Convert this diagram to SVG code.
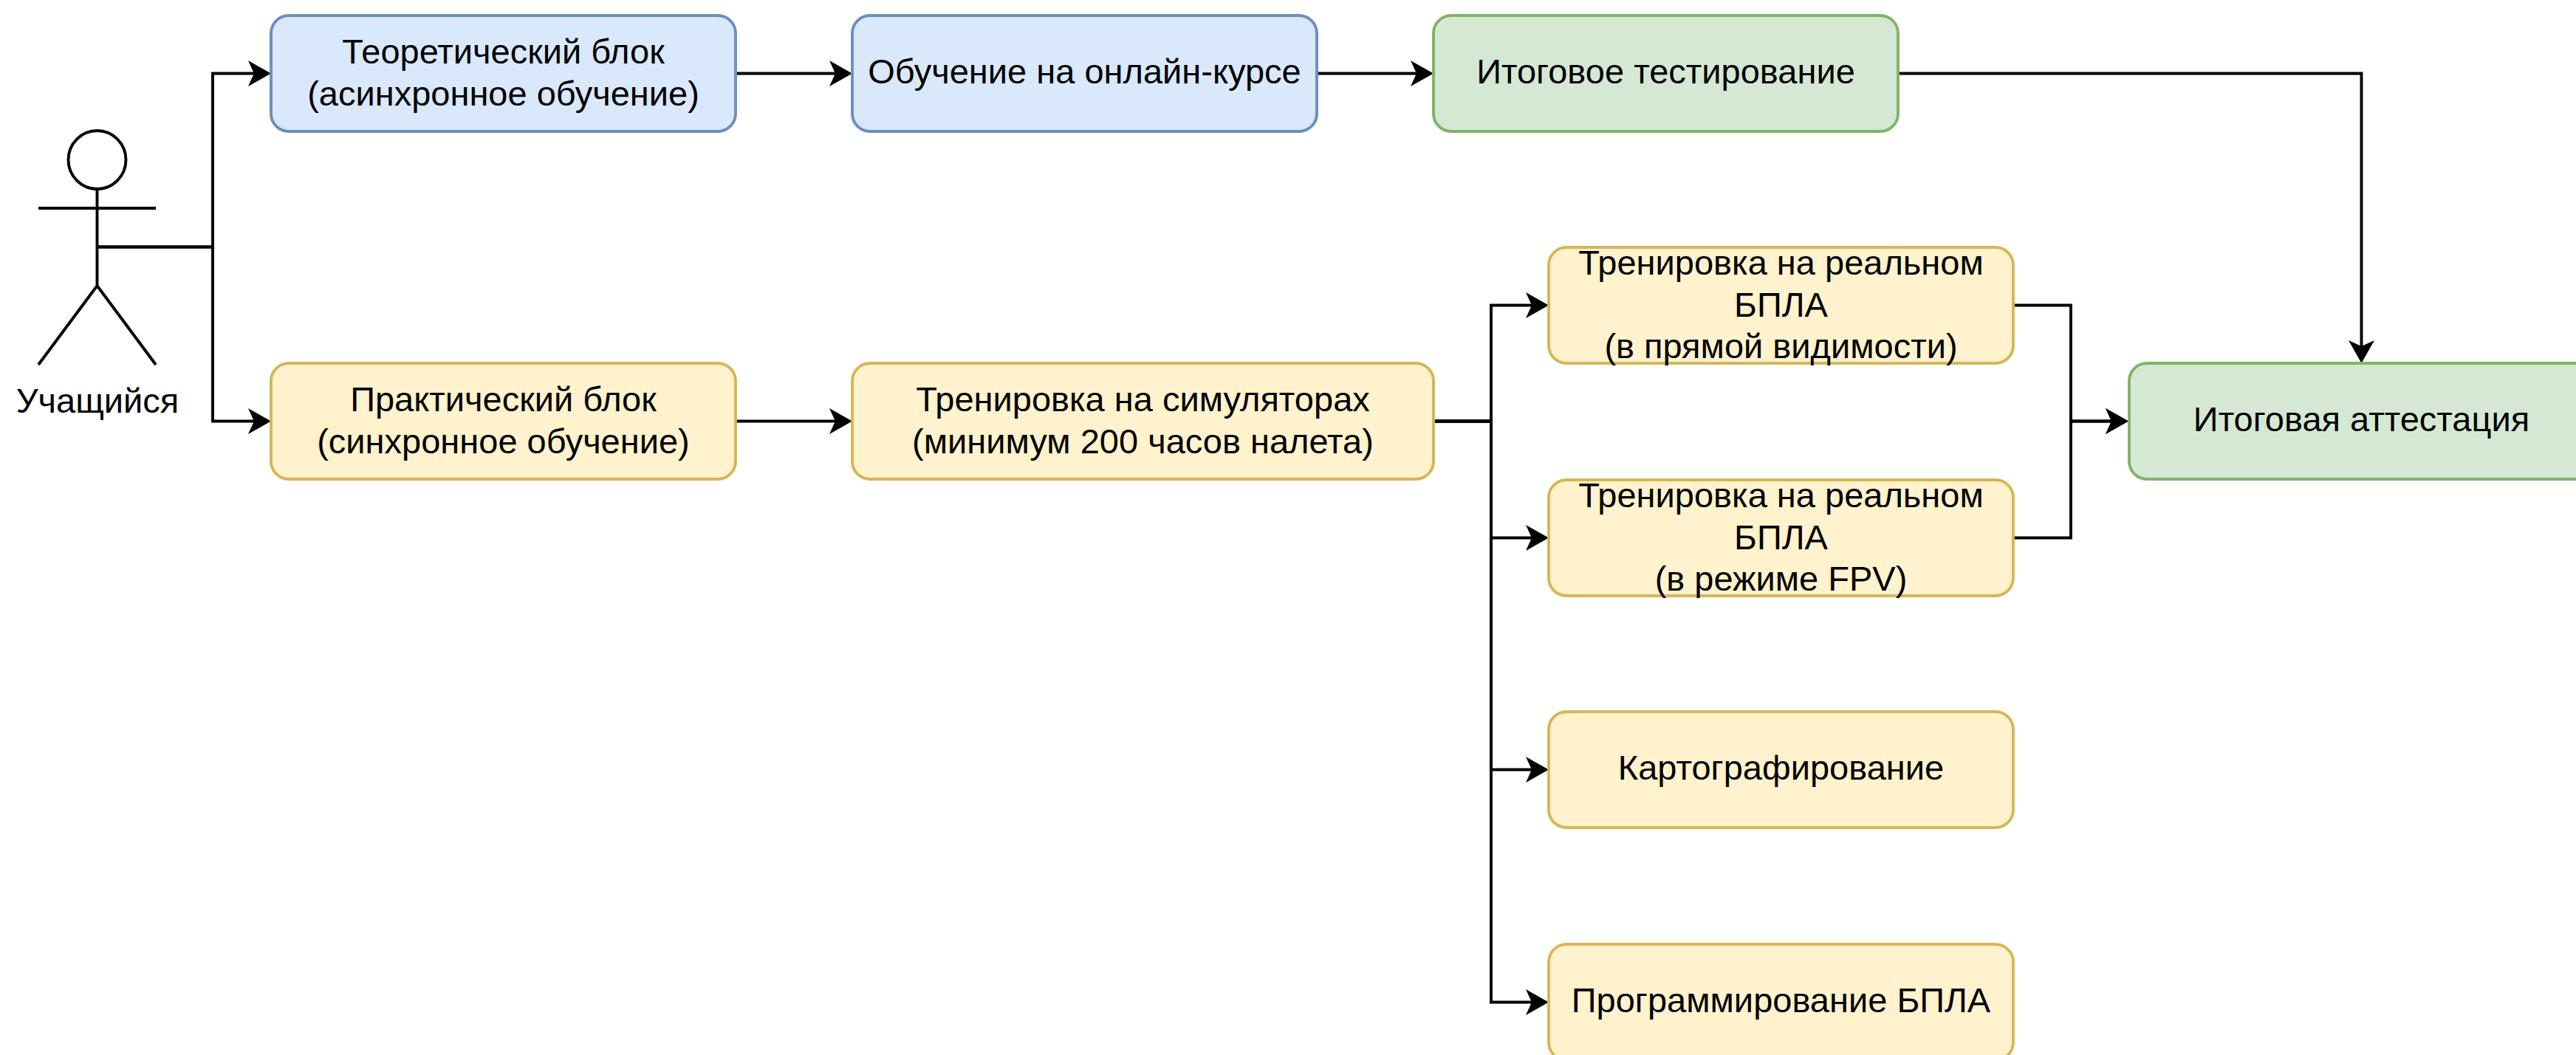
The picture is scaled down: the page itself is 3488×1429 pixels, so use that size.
<svg xmlns="http://www.w3.org/2000/svg" width="3488" height="1429" viewBox="0 0 3488 1429">
<style>
.box{stroke-width:3.9}
.blue{fill:#dae8fc;stroke:#6c8ebf}
.yellow{fill:#fff2cc;stroke:#d6b656}
.green{fill:#d5e8d4;stroke:#82b366}
text{font-family:"Liberation Sans",Arial,Helvetica,sans-serif;font-size:47px;fill:#000;text-anchor:middle}
.edge{fill:none;stroke:#000;stroke-width:3.9;marker-end:url(#arrow)}
.actor{fill:none;stroke:#000;stroke-width:3.9}
</style>
<defs>
<marker id="arrow" markerUnits="userSpaceOnUse" viewBox="-12 -18 33 36" markerWidth="33" markerHeight="36" refX="0" refY="0" orient="auto">
<path d="M20,0 L-11,-17.5 L-3,0 L-11,17.5 Z" fill="#000"/>
</marker>
</defs>
<rect width="3488" height="1429" fill="#fff"/>
<g id="connectors">
<path class="edge" d="M132,334.5 H288 V99.5 H347"/>
<path class="edge" d="M132,334.5 H288 V570.5 H347"/>
<path class="edge" d="M996,99.5 H1134"/>
<path class="edge" d="M1783,99.5 H1921"/>
<path class="edge" d="M2570,99.5 H3197.5 V472"/>
<path class="edge" d="M996,570.5 H1134"/>
<path class="edge" d="M1941,570.5 H2019 V413.5 H2077"/>
<path class="edge" d="M1941,570.5 H2019 V728.5 H2077"/>
<path class="edge" d="M1941,570.5 H2019 V1042.5 H2077"/>
<path class="edge" d="M1941,570.5 H2019 V1357.5 H2077"/>
<path class="edge" d="M2726,413.5 H2804 V570.5 H2862"/>
<path class="edge" d="M2726,728.5 H2804 V570.5 H2862"/>
</g>
<g id="actor">
<ellipse class="actor" cx="131.5" cy="216.5" rx="39" ry="39.5"/>
<path class="actor" d="M131.5,256 V387 M52,282 H211 M131.5,387 L52,494 M131.5,387 L211,494"/>
<text x="132" y="559">Учащийся</text>
</g>
<g id="theory">
<rect class="box blue" x="367" y="21" width="629" height="157" rx="24"/>
<text x="681.5" y="86">Теоретический блок</text>
<text x="681.5" y="143">(асинхронное обучение)</text>
</g>
<g id="online">
<rect class="box blue" x="1154" y="21" width="629" height="157" rx="24"/>
<text x="1468.5" y="113">Обучение на онлайн-курсе</text>
</g>
<g id="test">
<rect class="box green" x="1941" y="21" width="629" height="157" rx="24"/>
<text x="2255.5" y="113">Итоговое тестирование</text>
</g>
<g id="practice">
<rect class="box yellow" x="367" y="492" width="629" height="157" rx="24"/>
<text x="681.5" y="557">Практический блок</text>
<text x="681.5" y="614">(синхронное обучение)</text>
</g>
<g id="simulators">
<rect class="box yellow" x="1154" y="492" width="787" height="157" rx="24"/>
<text x="1547.5" y="557">Тренировка на симуляторах</text>
<text x="1547.5" y="614">(минимум 200 часов налета)</text>
</g>
<g id="real-los">
<rect class="box yellow" x="2097" y="335" width="629" height="157" rx="24"/>
<text x="2411.5" y="372">Тренировка на реальном</text>
<text x="2411.5" y="428.5">БПЛА</text>
<text x="2411.5" y="485">(в прямой видимости)</text>
</g>
<g id="real-fpv">
<rect class="box yellow" x="2097" y="650" width="629" height="157" rx="24"/>
<text x="2411.5" y="687">Тренировка на реальном</text>
<text x="2411.5" y="743.5">БПЛА</text>
<text x="2411.5" y="800">(в режиме FPV)</text>
</g>
<g id="mapping">
<rect class="box yellow" x="2097" y="964" width="629" height="157" rx="24"/>
<text x="2411.5" y="1056">Картографирование</text>
</g>
<g id="programming">
<rect class="box yellow" x="2097" y="1279" width="629" height="157" rx="24"/>
<text x="2411.5" y="1371">Программирование БПЛА</text>
</g>
<g id="final">
<rect class="box green" x="2883" y="492" width="629" height="157" rx="24"/>
<text x="3197.5" y="584">Итоговая аттестация</text>
</g>
</svg>
